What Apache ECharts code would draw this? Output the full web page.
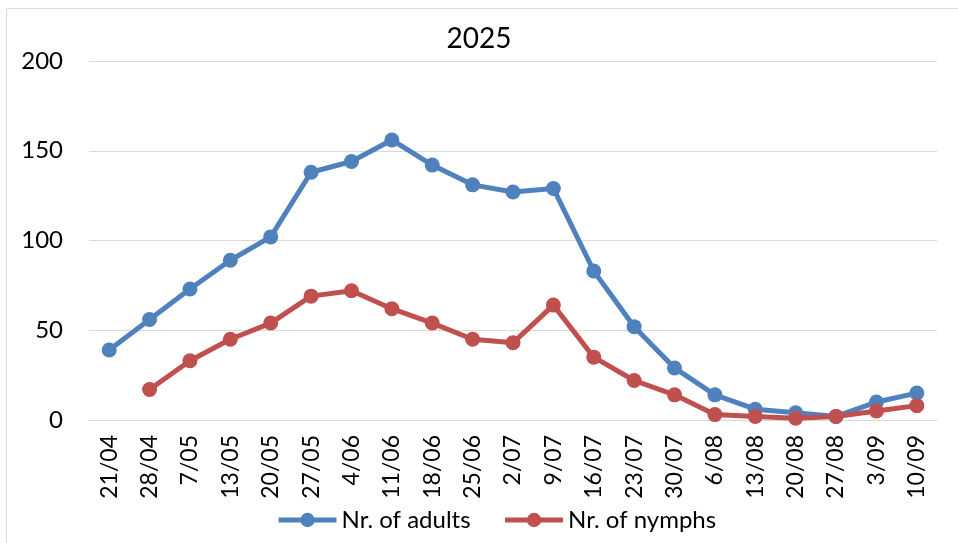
<!DOCTYPE html>
<html>
<head>
<meta charset="utf-8">
<script src="https://cdn.jsdelivr.net/npm/echarts@6/dist/echarts.min.js"></script>
<style>
  html, body { margin: 0; padding: 0; background: #fff; }
  #chart { width: 958px; height: 543px; }
</style>
</head>
<body>
<div id="chart"></div>
<script>
  // sampling dates
  const categories = ['21/04', '28/04', '7/05', '13/05', '20/05', '27/05', '4/06', '11/06', '18/06', '25/06',
    '2/07', '9/07', '16/07', '23/07', '30/07', '6/08', '13/08', '20/08', '27/08', '3/09', '10/09'];
  const adults = [39, 56, 73, 89, 102, 138, 144, 156, 142, 131, 127, 129, 83, 52, 29, 14, 6, 4, 2, 10, 15];
  const nymphs = [null, 17, 33, 45, 54, 69, 72, 62, 54, 45, 43, 64, 35, 22, 14, 3, 2, 1, 2, 5, 8];
  const yTicks = [0, 50, 100, 150, 200];

  const FONT = 'Lato, "Noto Sans", sans-serif';
  const BLUE = '#4F81BD';
  const RED = '#C0504D';

  let myChart = echarts.init(document.getElementById('chart'));
  let option = {
    animation: false,
    textStyle: { fontFamily: FONT, color: '#000' },
    title: {
      text: '2025',
      left: 'center',
      top: 20,
      textStyle: { fontSize: 28, fontWeight: 'normal', fontFamily: FONT, color: '#000' }
    },
    graphic: [{
      type: 'rect',
      shape: { x: 6.5, y: 8.5, width: 960, height: 540 },
      style: { fill: 'none', stroke: '#d9d9d9', lineWidth: 1 },
      silent: true
    }],
    legend: {
      bottom: 6,
      left: 271,
      itemWidth: 58,
      itemHeight: 18,
      itemGap: 32,
      lineStyle: { width: 5 },
      textStyle: { fontSize: 24, fontFamily: FONT, color: '#000' },
      data: ['Nr. of adults', 'Nr. of nymphs']
    },
    grid: {
      left: 89,
      right: 21,
      top: 61,
      bottom: 123
    },
    xAxis: {
      type: 'category',
      data: categories,
      boundaryGap: true,
      axisTick: { show: false },
      axisLine: { show: true, lineStyle: { color: '#d9d9d9', width: 1 } },
      axisLabel: {
        rotate: 90,
        interval: 0,
        margin: 15,
        fontSize: 23,
        color: '#000',
        fontFamily: FONT
      }
    },
    yAxis: {
      type: 'value',
      min: yTicks[0],
      max: yTicks[yTicks.length - 1],
      interval: 50,
      axisLine: { show: false },
      axisTick: { show: false },
      splitLine: { lineStyle: { color: '#d9d9d9', width: 1 } },
      axisLabel: { fontSize: 24, color: '#000', margin: 26, fontFamily: FONT }
    },
    series: [
      {
        name: 'Nr. of adults',
        type: 'line',
        data: adults,
        symbol: 'circle',
        symbolSize: 15,
        lineStyle: { color: BLUE, width: 5 },
        itemStyle: { color: BLUE }
      },
      {
        name: 'Nr. of nymphs',
        type: 'line',
        data: nymphs,
        symbol: 'circle',
        symbolSize: 15,
        lineStyle: { color: RED, width: 5 },
        itemStyle: { color: RED }
      }
    ]
  };
  option && myChart.setOption(option);
</script>
</body>
</html>
